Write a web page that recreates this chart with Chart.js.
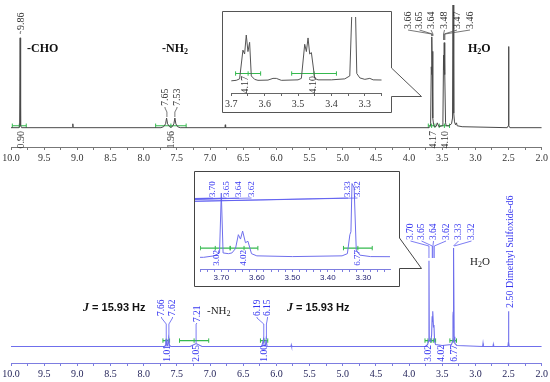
<!DOCTYPE html>
<html><head><meta charset="utf-8">
<script src="https://cdn.jsdelivr.net/npm/chart.js@4.4.1/dist/chart.umd.min.js"></script>
<style>
html,body{margin:0;padding:0;background:#fff;}
body{width:550px;height:382px;overflow:hidden;position:relative;}
canvas{position:absolute;display:block;}
#cTopIn,#cBotIn{background:#fff;}
</style></head><body>
<canvas id="cTop" width="550" height="166" style="left:0;top:0"></canvas>
<canvas id="cBot" width="550" height="216" style="left:0;top:166px"></canvas>
<canvas id="cTopIn" width="168" height="100" style="left:223px;top:12px"></canvas>
<canvas id="cBotIn" width="204" height="114" style="left:195px;top:172px"></canvas>
<script>
// ---------- DATA ----------
// Upper spectrum (chemical shift in ppm, relative intensity)
const topPpm = [10.0, 9.88, 9.87, 9.862, 9.855, 9.84, 9.072, 9.068, 9.064,
  7.74, 7.70, 7.67, 7.655, 7.64, 7.61, 7.59, 7.57, 7.545, 7.53, 7.515, 7.49, 7.45,
  6.775, 6.77, 6.765,
  3.70, 3.685, 3.675, 3.665, 3.66, 3.655, 3.65, 3.645, 3.64, 3.63, 3.62, 3.59, 3.575, 3.565, 3.55,
  3.50, 3.49, 3.48, 3.475, 3.47, 3.465, 3.46, 3.45, 3.44, 3.40, 3.36, 3.345, 3.337, 3.329, 3.324,
  3.315, 3.30, 3.285, 3.275, 3.20, 2.52, 2.505, 2.50, 2.495, 2.48, 2.0];
const topIntensity = [0, 0, 0.02, 0.93, 0.02, 0, 0, 0.04, 0,
  0, 0.01, 0.04, 0.10, 0.04, 0.01, 0.005, 0.01, 0.04, 0.10, 0.04, 0.01, 0,
  0, 0.03, 0,
  0, 0.01, 0.04, 0.63, 0.55, 0.94, 0.60, 0.79, 0.10, 0.03, 0.01, 0.015, 0.05, 0.05, 0.01,
  0.02, 0.05, 0.75, 0.60, 0.88, 0.55, 0.58, 0.05, 0.02, 0.02, 0.04, 0.10, 1.8, 1.8, 0.15,
  0.06, 0.03, 0.05, 0.02, 0.01, 0, 0.02, 0.84, 0.02, 0, 0];
const topPeakLabels = ['9.86', '7.65', '7.53', '3.66', '3.65', '3.64', '3.48', '3.47', '3.46'];
const topIntegralValues = ['0.90', '1.96', '4.17', '4.10'];
const topIntegralRanges = [[9.98, 9.77], [7.82, 7.36], [3.71, 3.61], [3.545, 3.39]];
const topInsetIntegralValues = ['4.17', '4.10'];
const topInsetIntegralRanges = [[3.687, 3.612], [3.519, 3.385]];

// Lower spectrum
const botPpm = [10.0, 7.69, 7.67, 7.662, 7.65, 7.635, 7.622, 7.61, 7.59,
  7.30, 7.21, 7.12, 6.22, 6.195, 6.185, 6.165, 6.155, 6.14, 5.78, 5.775, 5.77,
  3.75, 3.72, 3.705, 3.70, 3.695, 3.68, 3.67, 3.66, 3.652, 3.646, 3.64, 3.632, 3.625, 3.615, 3.60,
  3.50, 3.36, 3.345, 3.338, 3.335, 3.332, 3.326, 3.32, 3.31, 3.28,
  2.89, 2.885, 2.88, 2.735, 2.73, 2.725, 2.51, 2.503, 2.50, 2.497, 2.49, 2.0];
const botIntensity = [0, 0, 0.01, 0.08, 0.01, 0.01, 0.08, 0.01, 0,
  0, 0.03, 0, 0, 0.07, 0.01, 0.01, 0.07, 0, 0, 0.015, 0,
  0, 0.02, 0.06, 0.88, 0.06, 0.05, 0.06, 0.12, 0.31, 0.25, 0.36, 0.20, 0.22, 0.05, 0.02,
  0.01, 0.02, 0.05, 0.31, 0.35, 1.01, 0.95, 0.10, 0.03, 0.01,
  0, 0.03, 0, 0, 0.02, 0, 0, 0.04, 0.36, 0.04, 0, 0];
const botPeakLabels = ['7.66', '7.62', '7.21', '6.19', '6.15', '3.70', '3.65', '3.64', '3.62', '3.33', '3.32'];
const botSolventLabel = '2.50 Dimethyl Sulfoxide-d6';
const botIntegralValues = ['1.01', '2.05', '1.00', '3.02', '4.02', '6.77'];
const botIntegralRanges = [[7.71, 7.61], [7.46, 7.02], [6.24, 6.13], [3.76, 3.67], [3.67, 3.60], [3.385, 3.285]];
const botInsetPeakLabels = ['3.70', '3.65', '3.64', '3.62', '3.33', '3.32'];
const botInsetIntegralValues = ['3.02', '4.02', '6.77'];
const botInsetIntegralRanges = [[3.759, 3.675], [3.675, 3.597], [3.356, 3.275]];
const couplingLabel = '15.93 Hz';

// ---------- helpers ----------
const SERIF = "'Liberation Serif','DejaVu Serif',serif";
const SANS = "'Liberation Sans','DejaVu Sans',sans-serif";
const GREEN = '#35b94f';
const BLUE_TXT = '#3535f0';
const pts = (xs, ys) => xs.map((x, i) => ({x, y: ys[i]}));
function integ(ranges, lvl) {
  const out = [];
  ranges.forEach(([a, b]) => { out.push({x: a, y: lvl}, {x: (a + b) / 2, y: lvl}, {x: b, y: lvl}, {x: b, y: null}); });
  return out;
}
function specDs(data, color, w) {
  return {data, showLine: true, borderColor: color, borderWidth: w, pointRadius: 0, tension: 0, spanGaps: false};
}
function intDs(data) {
  return {data, showLine: true, borderColor: GREEN, borderWidth: 1.2, pointRadius: 2.2, pointStyle: 'line',
    rotation: 90, pointBorderColor: GREEN, pointBorderWidth: 1, tension: 0, spanGaps: false};
}
function xAxis(min, max, step, every, dec, font, color, lineColor, h, tickLen, pad) {
  return {type: 'linear', min, max, reverse: true, afterFit(s) { s.height = h; },
    border: {display: true, color: lineColor, width: 1},
    grid: {display: true, drawOnChartArea: false, drawTicks: true, tickLength: tickLen, color: lineColor, lineWidth: 1},
    ticks: {stepSize: step, maxTicksLimit: 1000, includeBounds: false, autoSkip: false, maxRotation: 0, minRotation: 0,
      padding: pad, font, color,
      callback: (v) => { const r = v / every; return Math.abs(r - Math.round(r)) < 1e-6 ? Number(v).toFixed(dec) : ''; }}};
}
function vText(ctx, txt, x, y, anchor, font, color) {
  ctx.save(); ctx.translate(x, y); ctx.rotate(-Math.PI / 2);
  ctx.font = font; ctx.fillStyle = color; ctx.textBaseline = 'middle';
  ctx.textAlign = anchor === 'bottom' ? 'left' : 'right';
  ctx.fillText(txt, 0, 0); ctx.restore();
}
function fan(ctx, xs, labels, lx, yBottom, k1, k2, yEnds, font, color, lineColor) {
  labels.forEach((t, i) => {
    vText(ctx, t, lx[i], yBottom, 'bottom', font, color);
    const tx = xs.getPixelForValue(parseFloat(t));
    ctx.beginPath(); ctx.strokeStyle = lineColor; ctx.lineWidth = 0.8;
    ctx.moveTo(lx[i], yBottom + 1); ctx.lineTo(lx[i], k1); ctx.lineTo(tx, k2);
    ctx.lineTo(tx, Array.isArray(yEnds) ? yEnds[i] : yEnds); ctx.stroke();
  });
}
function subText(ctx, parts, x, y, size, weight, family, color) {
  ctx.save(); ctx.fillStyle = color; ctx.textBaseline = 'middle'; ctx.textAlign = 'left';
  let cx = x;
  parts.forEach(([s, sub]) => {
    ctx.font = `${weight} ${sub ? Math.round(size * 0.7) : size}px ${family}`;
    ctx.fillText(s, cx, sub ? y + size * 0.28 : y);
    cx += ctx.measureText(s).width;
  });
  ctx.restore();
}
function callout(ctx, p, color) {
  ctx.beginPath(); ctx.moveTo(p[0][0], p[0][1]);
  for (let i = 1; i < p.length; i++) ctx.lineTo(p[i][0], p[i][1]);
  ctx.closePath(); ctx.fillStyle = '#fff'; ctx.fill();
  ctx.strokeStyle = color; ctx.lineWidth = 1; ctx.stroke();
}
function deco(ox, oy, fn) {
  return {id: 'deco', afterDraw(chart) { const c = chart.ctx; c.save(); c.translate(-ox, -oy); fn(c, chart); c.restore(); }};
}
const base = {responsive: false, animation: false, devicePixelRatio: 1, events: [],
  plugins: {legend: {display: false}, tooltip: {enabled: false}}};
function cfg(datasets, x, ymin, ymax, pad, plugin) {
  return {type: 'scatter', data: {datasets},
    options: Object.assign({}, base, {layout: {padding: pad},
      scales: {x, y: {display: false, min: ymin, max: ymax}}}), plugins: [plugin]};
}
const topData = pts(topPpm, topIntensity);
const botData = pts(botPpm, botIntensity);
const serif = (s, c) => `${s}px ${SERIF}`;

// ---------- upper spectrum ----------
new Chart(document.getElementById('cTop'), cfg(
  [specDs(topData, '#4a4a4a', 1), intDs(integ(topIntegralRanges, 0.02))],
  xAxis(2, 10, 0.25, 0.5, 1, {family: SERIF, size: 10}, '#333', '#777', 19, 3, 2),
  -0.2, 1.27, {left: 11, right: 8, top: 0, bottom: 0},
  deco(0, 0, (ctx, ch) => {
    const xs = ch.scales.x;
    callout(ctx, [[222.5, 11.5], [391.5, 11.5], [391.5, 68], [421.5, 96.5], [391.5, 96.5], [391.5, 112.5], [222.5, 112.5]], '#555');
    const f = `10px ${SERIF}`;
    fan(ctx, xs, topPeakLabels.slice(0, 1), [21], 30, 31, 32, 34, f, '#333', '#555');
    fan(ctx, xs, topPeakLabels.slice(1, 3), [165, 177], 106, 108, 112, 117, f, '#333', '#555');
    fan(ctx, xs, topPeakLabels.slice(3), [408, 419.5, 431, 444.5, 457, 470], 29, 30, 34, [36, 36, 36, 40, 40, 40], f, '#333', '#555');
    const il = [21, 171, 433, 445.5];
    topIntegralValues.forEach((t, i) => vText(ctx, t, il[i], 131, 'top', f, '#333'));
    subText(ctx, [['-CHO', 0]], 27, 49, 12, 'bold', SERIF, '#111');
    subText(ctx, [['-NH', 0], ['2', 1]], 162, 49, 12, 'bold', SERIF, '#111');
    subText(ctx, [['H', 0], ['2', 1], ['O', 0]], 468, 49, 12, 'bold', SERIF, '#111');
  })));

// ---------- upper inset ----------
new Chart(document.getElementById('cTopIn'), cfg(
  [specDs(topData, '#555', 1), intDs(integ(topInsetIntegralRanges, 0.15))],
  xAxis(3.25, 3.7, 0.05, 0.1, 1, {family: SERIF, size: 10}, '#333', '#666', 19, 3, 2),
  -0.25, 1.31, {left: 6.5, right: 9.5, top: 0, bottom: 0},
  deco(223, 12, (ctx) => {
    const f = `10px ${SERIF}`;
    const il = [245, 313.5];
    topInsetIntegralValues.forEach((t, i) => vText(ctx, t, il[i], 76, 'top', f, '#333'));
  })));

// ---------- lower spectrum ----------
new Chart(document.getElementById('cBot'), cfg(
  [specDs(botData, '#6f6fec', 1.1), intDs(integ(botIntegralRanges, 0.06))],
  xAxis(2, 10, 0.25, 0.5, 1, {family: SERIF, size: 10}, '#1e1e55', '#7d7de0', 19, 3, 2),
  -0.17, 1.8, {left: 11, right: 8, top: 0, bottom: 0},
  deco(0, 166, (ctx, ch) => {
    const xs = ch.scales.x;
    callout(ctx, [[194.5, 171.5], [399.5, 171.5], [399.5, 238], [421.5, 268.5], [399.5, 268.5], [399.5, 286.5], [194.5, 286.5]], '#444');
    const f = `9.5px ${SERIF}`;
    fan(ctx, xs, botPeakLabels.slice(0, 2), [161.5, 172.5], 316, 318, 324, 338, f, BLUE_TXT, '#5a5af0');
    fan(ctx, xs, botPeakLabels.slice(2, 3), [197], 322, 323, 324, 343, f, BLUE_TXT, '#5a5af0');
    fan(ctx, xs, botPeakLabels.slice(3, 5), [257, 267.5], 316, 318, 324, 339, f, BLUE_TXT, '#5a5af0');
    fan(ctx, xs, botPeakLabels.slice(5), [410.5, 421.5, 433.5, 446, 458.5, 471.5], 240, 241, 246, [258, 258, 258, 258, 246, 246], f, BLUE_TXT, '#5a5af0');
    // solvent
    vText(ctx, botSolventLabel, 510, 308, 'bottom', `10px ${SERIF}`, BLUE_TXT);
    const il = [167, 196, 264, 428.5, 441, 454];
    botIntegralValues.forEach((t, i) => vText(ctx, t, il[i], 345, 'top', f, BLUE_TXT));
    // coupling constants
    [[83, 308], [287, 308]].forEach(([x, y]) => {
      ctx.save(); ctx.fillStyle = '#111'; ctx.textBaseline = 'middle';
      ctx.font = `italic bold 12px ${SERIF}`; ctx.fillText('J', x, y);
      const w = ctx.measureText('J').width;
      ctx.font = `bold 11px ${SANS}`; ctx.fillText(' = ' + couplingLabel, x + w, y);
      ctx.restore();
    });
    subText(ctx, [['-NH', 0], ['2', 1]], 207, 311, 11, 'normal', SERIF, '#222');
    subText(ctx, [['H', 0], ['2', 1], ['O', 0]], 470, 262, 11, 'normal', SERIF, '#222');
  })));

// ---------- lower inset ----------
new Chart(document.getElementById('cBotIn'), cfg(
  [specDs(botData, '#6f6fec', 1), intDs(integ(botInsetIntegralRanges, 0.126))],
  xAxis(3.225, 3.76, 0.02, 0.1, 2, {family: SANS, size: 8}, '#1e1e6e', '#7d7de0', 17, 3, 1),
  -0.16, 1.1, {left: 3.5, right: 9, top: 0, bottom: 0},
  deco(195, 172, (ctx, ch) => {
    const xs = ch.scales.x;
    const f = `9px ${SERIF}`;
    fan(ctx, xs, botInsetPeakLabels.slice(0, 4), [213, 226.5, 239, 251.5], 197, 198, 203, [210, 228, 228, 228], f, BLUE_TXT, '#5a5af0');
    fan(ctx, xs, botInsetPeakLabels.slice(4), [348, 357.5], 197, 198, 202, 205, f, BLUE_TXT, '#5a5af0');
    const il = [217, 244, 358];
    botInsetIntegralValues.forEach((t, i) => vText(ctx, t, il[i], 250, 'top', f, BLUE_TXT));
  })));
</script>
</body></html>
